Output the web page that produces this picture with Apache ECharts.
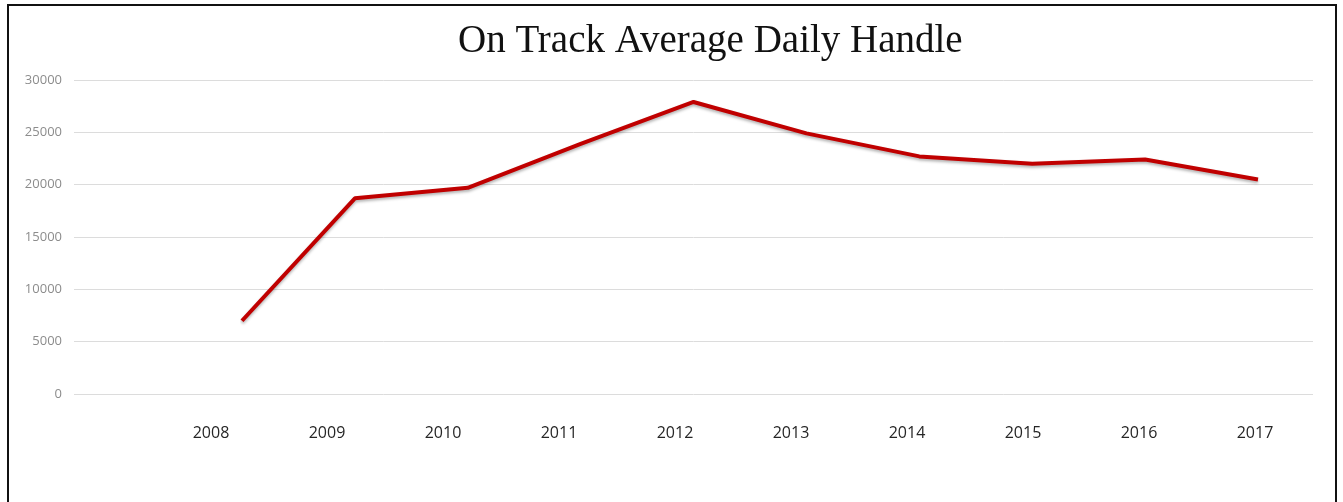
<!DOCTYPE html>
<html>
<head>
<meta charset="utf-8">
<script src="https://cdn.jsdelivr.net/npm/echarts@6/dist/echarts.min.js"></script>
<style>
  html, body { margin: 0; padding: 0; background: #fff; }
  #chart { width: 1343px; height: 502px; }
</style>
</head>
<body>
<div id="chart"></div>
<script>
// values
const years = ['2008', '2009', '2010', '2011', '2012', '2013', '2014', '2015', '2016', '2017'];
const handle = [7000, 18700, 19700, 23900, 27900, 24900, 22700, 22000, 22400, 20500];
const yTicks = { min: 0, max: 30000, interval: 5000 };

const chart = echarts.init(document.getElementById('chart'));

// plot area shared by the three grids (top / bottom)
const plotTop = 80, plotBottom = 108;

const option = {
  animation: false,
  title: {
    text: 'On Track Average Daily Handle',
    left: 453,
    top: 17,
    textStyle: {
      fontFamily: '"Liberation Serif", "Times New Roman", serif',
      fontSize: 39,
      fontWeight: 'normal',
      color: '#111'
    }
  },
  graphic: [{
    type: 'rect',
    shape: { x: 8, y: 5, width: 1328, height: 520 },
    style: { fill: null, stroke: '#111', lineWidth: 2 },
    silent: true
  }],
  grid: [
    // gridlines + y labels
    { left: 74, right: 30, top: plotTop, bottom: plotBottom },
    // year labels
    { left: 153, right: 30, top: plotTop, bottom: plotBottom },
    // the line itself
    { left: 242, right: 85, top: plotTop, bottom: plotBottom }
  ],
  xAxis: [
    { gridIndex: 0, type: 'category', data: years, show: false },
    {
      gridIndex: 1, type: 'category', data: years, boundaryGap: true,
      axisLine: { show: false }, axisTick: { show: false },
      axisLabel: {
        margin: 31,
        fontFamily: '"Open Sans", sans-serif',
        fontSize: 16,
        color: '#262626'
      }
    },
    { gridIndex: 2, type: 'category', data: years, boundaryGap: false, show: false }
  ],
  yAxis: [
    {
      gridIndex: 0, type: 'value', min: yTicks.min, max: yTicks.max, interval: yTicks.interval,
      axisLine: { show: false }, axisTick: { show: false },
      splitLine: { lineStyle: { color: '#dcdcdc', width: 1 } },
      axisLabel: {
        margin: 12,
        fontFamily: '"Open Sans", sans-serif',
        fontSize: 13,
        color: '#8c8c8c',
        formatter: v => String(v)
      }
    },
    { gridIndex: 1, type: 'value', min: yTicks.min, max: yTicks.max, show: false },
    { gridIndex: 2, type: 'value', min: yTicks.min, max: yTicks.max, show: false }
  ],
  series: [{
    type: 'line',
    xAxisIndex: 2,
    yAxisIndex: 2,
    data: handle,
    showSymbol: false,
    lineStyle: {
      color: '#c00000',
      width: 4,
      shadowColor: 'rgba(0,0,0,0.3)',
      shadowBlur: 3,
      shadowOffsetY: 2
    }
  }]
};

chart.setOption(option);
</script>
</body>
</html>
